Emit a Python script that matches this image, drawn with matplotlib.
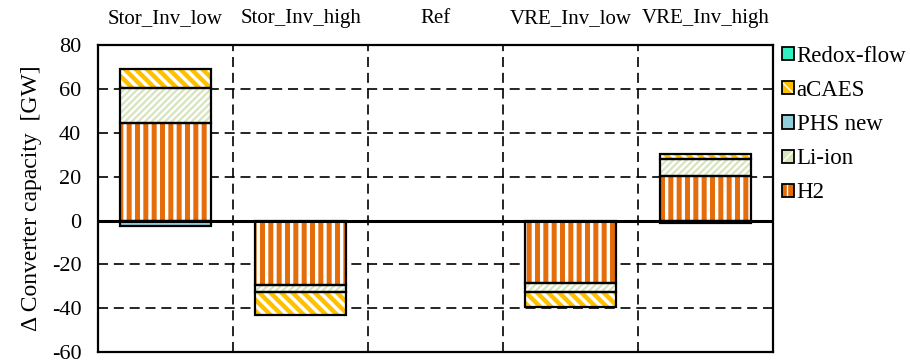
import numpy as np
import matplotlib
matplotlib.use("Agg")
import matplotlib.pyplot as plt
from matplotlib.patches import Patch
from matplotlib.legend_handler import HandlerTuple

plt.rcParams['font.family'] = ['Liberation Serif', 'DejaVu Serif']
plt.rcParams['font.size'] = 15
plt.rcParams['axes.unicode_minus'] = False

# ---------- data [GW] ----------
scenarios = ["Stor_Inv_low", "Stor_Inv_high", "Ref", "VRE_Inv_low", "VRE_Inv_high"]
h2 = [44.5, -29.2, 0.0, -28.4, 20.2]
li_ion = [16.0, -3.5, 0.0, -4.0, 8.0]
phs_new = [-2.5, 0.0, 0.0, 0.0, -1.0]
acaes = [8.5, -10.2, 0.0, -7.0, 2.0]
redox = [0.0, 0.0, 0.0, 0.0, 0.0]

# name, values, hatch colour, background, hatch pattern, hatch linewidth
techs = [
    ("H2", h2, "#E46C0A", "white", "||", 3.6),
    ("Li-ion", li_ion, "#D7E4BD", "white", "/////", 1.6),
    ("PHS new", phs_new, "#92CDDC", "#92CDDC", None, 1.0),
    ("aCAES", acaes, "#FFC000", "white", "\\\\\\", 3.2),
    ("Redox-flow", redox, "#33F0C0", "#33F0C0", None, 1.0),
]
# legend swatches: face, hatch colour, hatch
swatch = {
    "H2": ("#E46C0A", "white", "||"),
    "Li-ion": ("#D7E4BD", "white", "///"),
    "PHS new": ("#92CDDC", "#92CDDC", None),
    "aCAES": ("#FFC000", "white", "\\\\"),
    "Redox-flow": ("#33F0C0", "#33F0C0", None),
}

x = np.arange(len(scenarios))
width = 0.67

fig = plt.figure(figsize=(9.1, 3.62), dpi=100)
ax = fig.add_axes([0.1077, 0.027, 0.742, 0.849])

pos_base = np.zeros(len(x))
neg_base = np.zeros(len(x))
handles = []
for name, vals, hc, bg, hatch, hlw in techs:
    vals = np.array(vals)
    base = np.where(vals >= 0, pos_base, neg_base)
    m = vals != 0
    if m.any():
        with plt.rc_context({'hatch.linewidth': hlw}):
            bars = ax.bar(x[m], vals[m], width, bottom=base[m], color=bg, edgecolor=hc,
                          hatch=hatch, linewidth=0, zorder=3)
            for b in bars:
                if hasattr(b, "set_hatch_linewidth"):
                    b.set_hatch_linewidth(hlw)
        ax.bar(x[m], vals[m], width, bottom=base[m], fill=False, edgecolor="black",
               linewidth=1.6, zorder=4)
    pos_base += np.where(vals > 0, vals, 0)
    neg_base += np.where(vals < 0, vals, 0)

    fc, sc, sh = swatch[name]
    with plt.rc_context({'hatch.linewidth': 2.0}):
        h_fill = Patch(facecolor=fc, edgecolor=sc, hatch=sh, linewidth=0)
    h_edge = Patch(fill=False, edgecolor="black", linewidth=1.3)
    handles.append(((h_fill, h_edge), name))

ax.axhline(0, color="black", linewidth=2.2, zorder=5)

ax.set_xlim(-0.5, len(x) - 0.5)
ax.set_ylim(-60, 80)
ax.set_yticks(np.arange(-60, 81, 20))
ax.tick_params(axis="y", length=0, pad=12, labelsize=16)
ax.set_xticks(x)
ax.set_xticklabels(scenarios)
ax.xaxis.tick_top()
ax.tick_params(axis="x", length=0, pad=12)

dash = (0, (6, 3.5))
for yv in [-40, -20, 20, 40, 60]:
    ax.axhline(yv, color="black", linewidth=1.2, linestyle=dash, zorder=1)
for xv in np.arange(0.5, len(x) - 0.5, 1):
    ax.axvline(xv, color="black", linewidth=1.2, linestyle=dash, zorder=1)

for s in ax.spines.values():
    s.set_linewidth(1.6)

ax.set_ylabel("Δ Converter capacity  [GW]", labelpad=7, fontsize=17)

hs = [h for h, _ in handles][::-1]
ls = [l for _, l in handles][::-1]
ax.legend(hs, ls, handler_map={tuple: HandlerTuple(ndivide=1, pad=0)},
          loc="upper left", bbox_to_anchor=(1.012, 1.0), frameon=False,
          fontsize=16.5, handlelength=0.5, handleheight=0.5, handletextpad=0.12,
          labelspacing=0.57, borderaxespad=0.05, borderpad=0.0)

fig.savefig("out.png", dpi=100)
